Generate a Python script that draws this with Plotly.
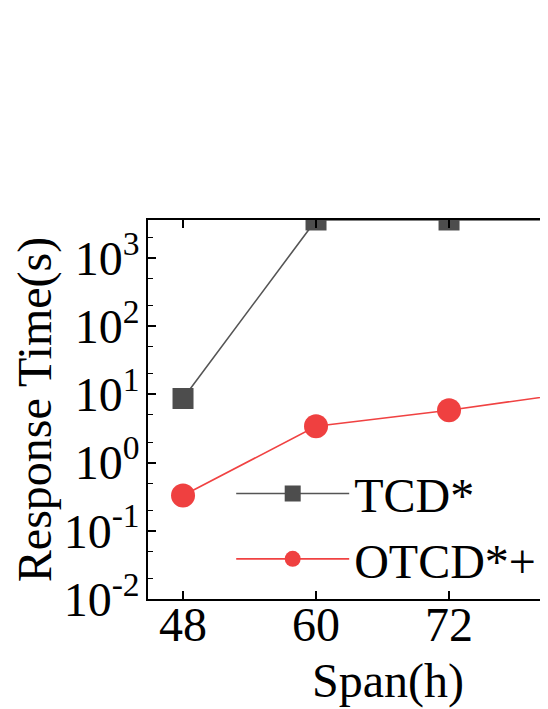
import plotly.graph_objects as go

# span of the query window (hours)
span = [48, 60, 72, 84]

# response time in seconds (TCD* capped at the 1h timeout)
tcd = [8.7, 3600, 3600, 3600]
otcd = [0.33, 3.4, 5.85, 11]

ytick_vals = [0.01, 0.1, 1, 10, 100, 1000]
ytick_text = ["10<sup>-2</sup>", "10<sup>-1</sup>", "10<sup>0</sup>",
              "10<sup>1</sup>", "10<sup>2</sup>", "10<sup>3</sup>"]
xtick_vals = [48, 60, 72, 84]

FONT = "Liberation Serif"

fig = go.Figure()

fig.add_trace(go.Scatter(
    x=span, y=tcd, name="TCD*", mode="lines+markers",
    line=dict(color="#555555", width=1.6),
    marker=dict(symbol="square", size=21, color="#4d4d4d"),
))
fig.add_trace(go.Scatter(
    x=span, y=otcd, name="OTCD*+", mode="lines+markers",
    line=dict(color="#f04242", width=1.6),
    marker=dict(symbol="circle", size=24, color="#ef4040"),
))

# page body has an 8px margin, so the figure is 8px smaller than the window
fig.update_layout(
    width=540, height=701,
    margin=dict(l=140, r=0, t=212, b=110),
    paper_bgcolor="white", plot_bgcolor="white",
    font=dict(family=FONT, size=48, color="black"),
    showlegend=True,
    legend=dict(
        x=0.208, y=0.378, xanchor="left", yanchor="top",
        bgcolor="rgba(0,0,0,0)", itemwidth=113,
        font=dict(family=FONT, size=48),
        tracegroupgap=0,
    ),
)

fig.update_xaxes(
    range=[44.84, 80.93], tickvals=xtick_vals,
    ticks="inside", ticklen=8, tickwidth=1.5, tickcolor="black",
    showline=True, linecolor="black", linewidth=1.5, mirror="ticks",
    showgrid=False, zeroline=False,
    tickfont=dict(family=FONT, size=48),
    ticklabelstandoff=-17,
)
fig.update_yaxes(
    type="log", range=[-2, 3.556],
    tickvals=ytick_vals, ticktext=ytick_text,
    ticks="inside", ticklen=8, tickwidth=1.5, tickcolor="black",
    minor=dict(ticks="inside", ticklen=5, tickcolor="black", tickwidth=1),
    showline=True, linecolor="black", linewidth=1.5, mirror=False,
    showgrid=False, zeroline=False,
    tickfont=dict(family=FONT, size=48),
    ticklabelstandoff=-3,
    title=dict(text="Response Time(s)", font=dict(family=FONT, size=48), standoff=11),
)

# x title sits under the centre of the full (cropped) axis, not the visible part
fig.add_annotation(
    text="Span(h)", xref="x", yref="paper", x=66.5, y=0,
    yanchor="middle", yshift=-82,
    showarrow=False, font=dict(family=FONT, size=48),
)

fig.write_html("out.html")
